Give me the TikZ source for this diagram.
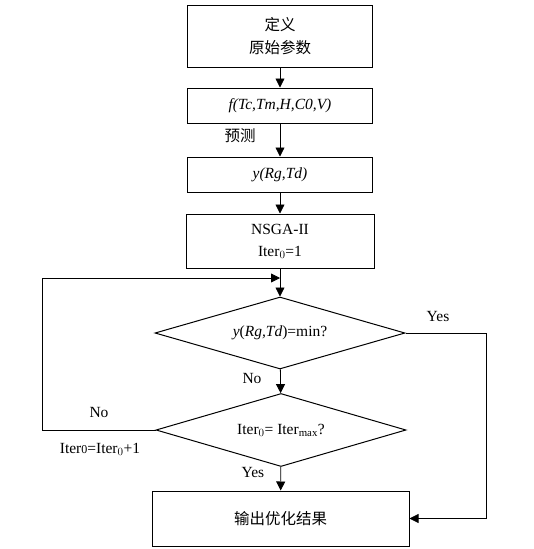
\documentclass[tikz,border=0pt]{standalone}
\usepackage{fontspec}
\setmainfont{Liberation Serif}
\newfontfamily\cjk{Noto Sans CJK SC}
\usetikzlibrary{arrows.meta, positioning, shapes.geometric}

\begin{document}
\begin{tikzpicture}[x=1pt, y=-1pt,
    font=\fontsize{15.5}{19}\selectfont,
    box/.style={draw, line width=1pt, inner sep=0pt, align=center},
    decision/.style={diamond, draw, line width=1pt, inner sep=0pt, aspect=3.4},
    flow/.style={-{Triangle[length=9pt,width=9pt]}, line width=0.8pt},
    lbl/.style={inner sep=1pt}]
            \useasboundingbox (0,0) rectangle (533,549);

            % Input boxes
            \node[box, minimum width=185pt, minimum height=62pt] (define) at (280,36)
                {{\cjk 定义}\\[4pt]{\cjk 原始参数}};
            \node[box, minimum width=185pt, minimum height=35pt] (model) at (280,105.5)
                {\textit{f(Tc,Tm,H,C0,V)}};
            \node[box, minimum width=185pt, minimum height=35pt] (predict) at (280,174.5)
                {\textit{y(Rg,Td)}};
            \node[box, minimum width=188pt, minimum height=54pt] (nsga) at (280,241)
                {NSGA-II\\[3pt]Iter$_0$=1};

            % Decisions
            \node[decision, minimum width=250pt, minimum height=72pt] (ismin) at (280,333)
                {\textit{y}(\textit{Rg,Td})=min?};
            \node[decision, minimum width=250pt, minimum height=73pt] (ismax) at (281,430)
                {Iter$_0$= Iter$_{\mathrm{max}}$?};

            % Output
            \node[box, minimum width=257pt, minimum height=55pt] (result) at (280.5,518.5)
                {\cjk 输出优化结果};

            % Connectors
            \coordinate (merge) at (280,278);
            \draw[flow] (define) -- (model);
            \draw[flow] (model) -- (predict);
            \draw[flow] (predict) -- (nsga);
            \draw[flow] (nsga) -- (ismin);
            \draw[flow] (ismin) -- (ismax);
            \draw[flow] (ismax) -- (result);
            \draw[flow] (ismin.east) -- ++(81,0) |- (result.east);
            \draw[flow] (ismax.west) -- ++(-113,0) |- (merge);

            % Labels
            \node[lbl] (lblpredict) at (240,136) {\cjk 预测};
            \node[lbl] (lblyes1) at (438,316) {Yes};
            \node[lbl] (lblno1) at (252,378) {No};
            \node[lbl] (lblno2) at (99,412) {No};
            \node[lbl] (lblinc) at (100,449) {Iter{\fontsize{12}{12}\selectfont 0}=Iter$_0$+1};
            \node[lbl] (lblyes2) at (253,472) {Yes};
\end{tikzpicture}
\end{document}
